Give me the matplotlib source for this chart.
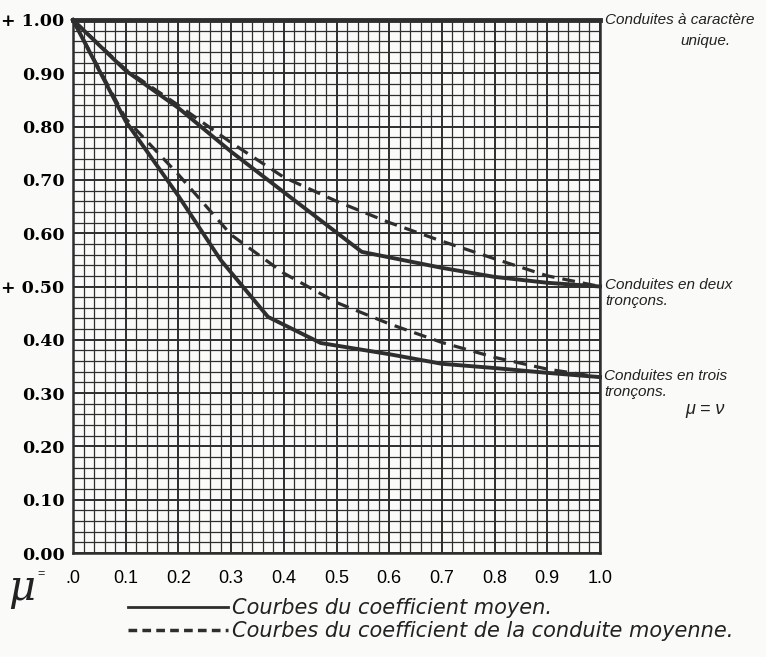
import matplotlib.pyplot as plt
import numpy as np
from matplotlib.lines import Line2D

# Données
mu_unique = [0.0, 1.0]
coef_unique = [1.0, 1.0]

mu_deux_moyen = [0.0, 0.1, 0.2, 0.3, 0.4, 0.548, 0.7, 0.8, 0.9, 1.0]
coef_deux_moyen = [1.0, 0.905, 0.835, 0.753, 0.677, 0.565, 0.535, 0.518, 0.507, 0.50]

mu_deux_cond = [0.0, 0.1, 0.2, 0.3, 0.4, 0.5, 0.6, 0.7, 0.8, 0.9, 1.0]
coef_deux_cond = [1.0, 0.907, 0.84, 0.77, 0.705, 0.66, 0.62, 0.585, 0.552, 0.52, 0.50]

mu_trois_moyen = [0.0, 0.1, 0.2, 0.28, 0.37, 0.47, 0.6, 0.7, 0.8, 0.9, 1.0]
coef_trois_moyen = [1.0, 0.81, 0.67, 0.55, 0.443, 0.394, 0.373, 0.355, 0.347, 0.338, 0.33]

mu_trois_cond = [0.0, 0.1, 0.2, 0.3, 0.4, 0.5, 0.6, 0.7, 0.8, 0.9, 1.0]
coef_trois_cond = [1.0, 0.815, 0.71, 0.597, 0.525, 0.47, 0.43, 0.395, 0.367, 0.345, 0.33]

x_ticks = [0.0, 0.1, 0.2, 0.3, 0.4, 0.5, 0.6, 0.7, 0.8, 0.9, 1.0]
x_labels = ['.0', '0.1', '0.2', '0.3', '0.4', '0.5', '0.6', '0.7', '0.8', '0.9', '1.0']
y_ticks = [0.0, 0.1, 0.2, 0.3, 0.4, 0.5, 0.6, 0.7, 0.8, 0.9, 1.0]
y_labels = ['0.00', '0.10', '0.20', '0.30', '0.40', '+ 0.50', '0.60', '0.70', '0.80', '0.90', '+ 1.00']

ink = '#2e2e2e'
hand = ['Liberation Sans', 'DejaVu Sans']

fig = plt.figure(figsize=(7.66, 6.57), dpi=100, facecolor='#fafaf8')
ax = fig.add_axes([73 / 766, 1 - 553 / 657, 527 / 766, 533 / 657])
ax.set_facecolor('#fafaf8')
ax.set_xlim(0, 1)
ax.set_ylim(0, 1)

# Quadrillage (papier millimétré)
ax.set_xticks(np.arange(0, 1.001, 0.02), minor=True)
ax.set_yticks(np.arange(0, 1.001, 0.02), minor=True)
ax.set_xticks(x_ticks)
ax.set_yticks(y_ticks)
ax.grid(which='minor', color=ink, linewidth=0.9)
ax.grid(which='major', color=ink, linewidth=1.4)
ax.tick_params(which='both', length=0)
for s in ax.spines.values():
    s.set_linewidth(1.8)
    s.set_color(ink)

ax.set_xticklabels(x_labels, family=hand, fontsize=13)
ax.tick_params(axis='x', pad=12)
ax.set_yticklabels(y_labels, family='DejaVu Serif', fontweight='bold', fontsize=12.5)
ax.tick_params(axis='y', pad=6)

# Courbes
ax.plot(mu_unique, coef_unique, color=ink, linewidth=3.5, clip_on=False)
ax.plot(mu_deux_moyen, coef_deux_moyen, color=ink, linewidth=2.8, clip_on=False)
ax.plot(mu_trois_moyen, coef_trois_moyen, color=ink, linewidth=2.8, clip_on=False)
ax.plot(mu_deux_cond, coef_deux_cond, color=ink, linewidth=2.3, dashes=(4, 2.5))
ax.plot(mu_trois_cond, coef_trois_cond, color=ink, linewidth=2.3, dashes=(4, 2.5))

# Annotations à droite
note = dict(family=hand, style='italic', fontsize=11, color='#222', va='center')
fig.text(605 / 766, 1 - 20 / 657, 'Conduites à caractère', ha='left', **note)
fig.text(705 / 766, 1 - 41 / 657, 'unique.', ha='center', **note)
fig.text(605 / 766, 1 - 285 / 657, 'Conduites en deux', ha='left', **note)
fig.text(605 / 766, 1 - 301 / 657, 'tronçons.', ha='left', **note)
fig.text(604 / 766, 1 - 376 / 657, 'Conduites en trois', ha='left', **note)
fig.text(604 / 766, 1 - 392 / 657, 'tronçons.', ha='left', **note)
fig.text(705 / 766, 1 - 409 / 657, 'μ = ν', family=hand, style='italic',
         fontsize=13, va='center', ha='center', color='#222')

# μ = sous l'axe
fig.text(22 / 766, 1 - 588 / 657, 'μ', family='DejaVu Serif', style='italic',
         fontsize=30, va='center', ha='center', color='#222')
fig.text(41 / 766, 1 - 574 / 657, '=', family=hand, fontsize=9, va='center',
         ha='center', color='#222')

# Légende
handles = [Line2D([], [], color=ink, linewidth=2),
           Line2D([], [], color=ink, linewidth=2.5, dashes=(2.5, 1.5))]
leg = fig.legend(handles,
                 ['Courbes du coefficient moyen.',
                  'Courbes du coefficient de la conduite moyenne.'],
                 loc='upper left', bbox_to_anchor=(120 / 766, 1 - 590 / 657),
                 frameon=False, handlelength=4.8, handletextpad=0.2,
                 labelspacing=0.15, borderaxespad=0,
                 prop={'family': ['DejaVu Sans'], 'style': 'italic', 'size': 15})
for t in leg.get_texts():
    t.set_color('#222')

fig.savefig('out.png', dpi=100, facecolor=fig.get_facecolor())
